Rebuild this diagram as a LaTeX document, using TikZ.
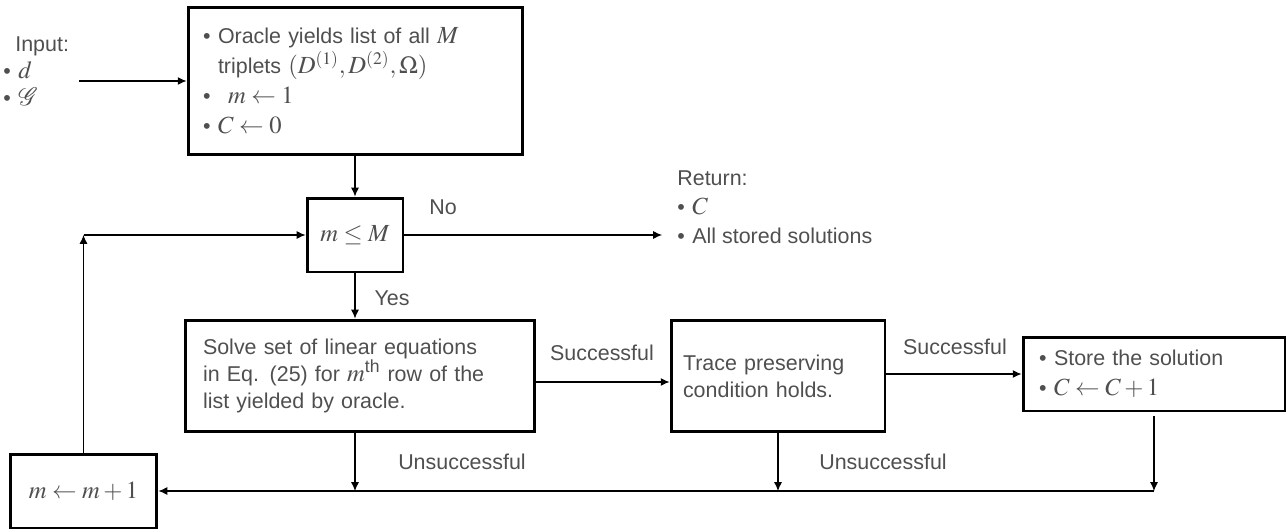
\documentclass[tikz,border=0pt]{standalone}
\usepackage{amsmath, amssymb}
\usepackage{mathptmx}
\usepackage{mathrsfs}
\usepackage{fontspec}
\setmainfont{Liberation Sans}
\usepackage{tikz}
\usetikzlibrary{arrows.meta, positioning, calc}
\definecolor{txtgray}{HTML}{4F4F4F}
\DeclareMathSizes{12.2}{14}{10}{8}
\newcommand{\itm}{\makebox[0.3cm][l]{\textbullet}}

\begin{document}
\begin{tikzpicture}[x=0.02cm, y=-0.02cm,
    every node/.style={font=\fontsize{12.2}{15.5}\selectfont, text=txtgray},
    box/.style={draw=black, line width=1.7pt, inner ysep=0pt, align=left},
    lbl/.style={inner sep=0pt},
    arr/.style={-{Latex[length=5pt,width=4.5pt]}, line width=0.6pt}]
    \useasboundingbox (0,0) rectangle (1287,530);

    % input and first step
    \node[lbl, inner xsep=0.2cm, anchor=west, align=left] (input) at (-7,71) {
        \hspace*{0.24cm}Input:\\
        \itm$d$\\
        \itm$\mathscr{G}$
    };
    \node[box, text width=6.1cm, inner xsep=0.3cm, minimum height=2.96cm, font=\fontsize{12.2}{17}\selectfont] (oracle) at (355.5,81) {
        \itm Oracle yields list of all $M$\\
        \hspace*{0.3cm}triplets $(D^{(1)}, D^{(2)}, \Omega)$\\
        \itm\hspace{0.2cm}$m \leftarrow 1$\\
        \itm$C \leftarrow 0$
    };

    % loop test
    \node[box, align=center, inner xsep=0pt, minimum width=1.92cm, minimum height=1.48cm] (cond) at (355,235) {$m \leq M$};
    \node[lbl, inner xsep=0.3cm, anchor=west, align=left, font=\fontsize{12.2}{16.5}\selectfont] (ret) at (662,207) {
        Return:\\
        \itm$C$\\
        \itm All stored solutions
    };
    \node[lbl] (no) at (443,207) {No};
    \node[lbl] (yes) at (392,298) {Yes};

    % solving and checks
    \node[box, text width=6.28cm, inner xsep=0.36cm, minimum height=2.24cm] (solve) at (360,376) {
        Solve set of linear equations\\
        in Eq. (25) for $m^{\text{th}}$ row of the\\
        list yielded by oracle.
    };
    \node[box, text width=3.8cm, inner xsep=0.24cm, minimum height=2.24cm] (trace) at (778,376) {
        Trace preserving\\
        condition holds.
    };
    \node[box, text width=4.6cm, inner xsep=0.32cm, minimum height=1.48cm, font=\fontsize{12.2}{17}\selectfont] (store) at (1154,374) {
        \itm Store the solution\\
        \itm$C \leftarrow C + 1$
    };
    \node[box, align=center, inner xsep=0pt, minimum width=2.94cm, minimum height=1.48cm] (inc) at (83.5,491) {$m \leftarrow m + 1$};

    \node[lbl] (succA) at (602,353) {Successful};
    \node[lbl] (succB) at (955,347) {Successful};
    \node[lbl] (failA) at (462,462) {Unsuccessful};
    \node[lbl] (failB) at (883,462) {Unsuccessful};

    % connectors
    \draw[arr] (input.east |- oracle.west) -- (oracle.west);
    \draw[arr] (oracle.south -| cond) -- (cond.north);
    \draw[arr] (cond.east) -- (cond.east -| ret.west);
    \draw[arr] (cond.south) -- (cond.south |- solve.north);
    \draw[arr] ([yshift=-0.12cm]solve.east) -- ([yshift=-0.12cm]solve.east -| trace.west);
    \draw[arr] (trace.east |- store) -- (store.west);
    \draw[arr] (cond.south |- solve.south) -- (cond.south |- inc);
    \draw[arr] (trace.south) -- (trace.south |- inc);
    \draw[arr] ([yshift=-0.08cm]store.south) -- (store.south |- inc);
    \draw[arr] (store.south |- inc) -- (inc.east);
    \coordinate (back) at (inc.north |- cond);
    \draw[arr] (inc.north) -- (back);
    \draw[arr] (back) -- (cond.west);
\end{tikzpicture}
\end{document}
